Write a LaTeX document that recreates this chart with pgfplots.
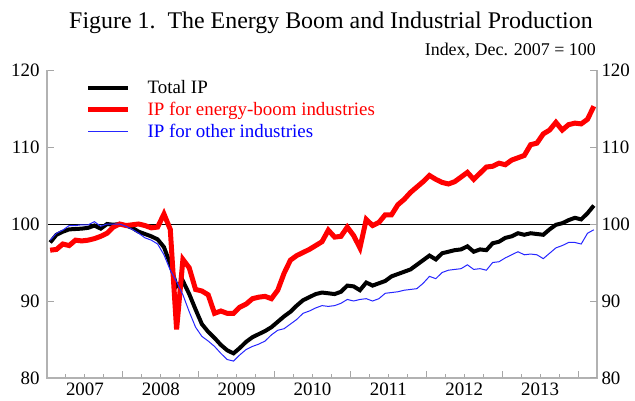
\documentclass[border=0pt]{standalone}
\usepackage{fontspec}
\setmainfont{Liberation Serif}
\usepackage{pgfplots}
\usepackage{pgfplotstable}
\pgfplotsset{compat=1.18}

% months from Jan 2007 (=0); index Dec 2007 = 100
\pgfplotstableread{
m total energy other
0 97.6 96.6 97.9
1 98.6 96.7 98.8
2 99.0 97.4 99.2
3 99.3 97.2 99.8
4 99.35 97.9 99.8
5 99.4 97.8 99.9
6 99.5 97.9 99.9
7 99.8 98.1 100.3
8 99.4 98.4 99.7
9 100.0 98.8 100.0
10 99.9 99.6 100.0
11 100.0 100.0 100.0
12 99.8 99.8 99.7
13 99.5 99.9 99.3
14 99.0 100.0 98.8
15 98.7 99.8 98.2
16 98.4 99.5 97.9
17 98.0 99.6 97.4
18 97.0 101.3 96.0
19 94.8 99.3 94.0
20 91.9 86.3 92.5
21 92.6 95.4 90.8
22 90.9 94.3 88.6
23 88.9 91.5 86.6
24 87.0 91.3 85.4
25 86.0 90.8 84.8
26 85.2 88.4 84.1
27 84.3 88.7 83.2
28 83.6 88.4 82.4
29 83.2 88.4 82.2
30 83.9 89.2 83.0
31 84.7 89.6 83.7
32 85.3 90.3 84.1
33 85.7 90.5 84.4
34 86.1 90.6 84.8
35 86.6 90.3 85.6
36 87.3 91.4 86.2
37 88.0 93.6 86.4
38 88.6 95.3 87.0
39 89.4 95.9 87.6
40 90.1 96.3 88.4
41 90.5 96.7 88.7
42 90.9 97.2 89.1
43 91.1 97.7 89.4
44 91.0 99.2 89.3
45 90.9 98.3 89.4
46 91.2 98.4 89.7
47 92.0 99.6 90.2
48 91.9 98.5 90.0
49 91.4 96.9 90.2
50 92.4 100.6 90.3
51 92.0 99.8 90.0
52 92.3 100.2 90.3
53 92.6 101.2 91.0
54 93.2 101.2 91.1
55 93.5 102.5 91.2
56 93.8 103.2 91.4
57 94.1 104.1 91.5
58 94.7 104.8 91.6
59 95.3 105.5 92.3
60 95.9 106.3 93.2
61 95.4 105.8 92.9
62 96.2 105.4 93.7
63 96.4 105.2 94.0
64 96.6 105.5 94.1
65 96.7 106.1 94.2
66 97.1 106.7 94.7
67 96.4 105.8 94.1
68 96.7 106.6 94.2
69 96.6 107.4 94.0
70 97.5 107.5 95.0
71 97.7 107.9 95.1
72 98.2 107.7 95.6
73 98.4 108.3 96.0
74 98.8 108.6 96.4
75 98.6 108.9 96.0
76 98.8 110.3 96.1
77 98.7 110.5 96.0
78 98.6 111.7 95.5
79 99.3 112.2 96.2
80 99.9 113.2 96.9
81 100.1 112.2 97.2
82 100.5 112.9 97.6
83 100.8 113.1 97.6
84 100.6 113.0 97.4
85 101.4 113.6 98.8
86 102.4 115.3 99.25
}\ipdata

\begin{document}
\begin{tikzpicture}
\useasboundingbox (0,0) rectangle (635bp,401bp);
\node[anchor=base, font=\fontsize{24}{26}\selectfont] at (331bp,372bp)
  {Figure 1.\ \ The Energy Boom and Industrial Production};
\node[anchor=base east, font=\fontsize{18}{20}\selectfont, inner sep=0pt] at (596bp,345bp)
  {Index, Dec. 2007 = 100};

\begin{axis}[
  at={(47bp,23bp)}, anchor=south west,
  scale only axis, width=550bp, height=308bp,
  xmin=-0.5, xmax=86.5, ymin=80, ymax=120,
  clip=false,
  axis line style={draw=none},
  tick align=inside, xtick pos=bottom, ytick pos=left,
  major tick length=7bp, minor tick length=4bp,
  tick style={gray!70, line width=1bp},
  xtick={11.5,23.5,...,83.5}, xticklabels={},
  minor xtick={2.5,5.5,...,86.5},
  extra x ticks={5.5,17.5,...,77.5},
  extra x tick labels={2007,2008,2009,2010,2011,2012,2013},
  extra x tick style={major tick length=0pt},
  ytick={80,90,...,120},
  /pgf/number format/assume math mode=true,
  ticklabel style={font=\fontsize{19}{20}\selectfont},
  yticklabel style={xshift=-4bp},
  xticklabel style={yshift=-1bp},
  legend style={draw=none, fill=none, at={(0.068,0.976)}, anchor=north west,
    font=\fontsize{19}{20}\selectfont, row sep=3bp, inner sep=1bp},
  legend cell align=left,
  legend image code/.code={\draw[#1] (0bp,0bp) -- (40bp,0bp); \path (55bp,0bp);},
]
\addplot[black, line width=0.9bp, forget plot] coordinates {(-0.5,100) (86.5,100)};
\addplot[black, line width=4bp] table[x=m, y=total] {\ipdata};
\addlegendentry{\textcolor{black}{Total IP}}
\addplot[red, line width=5bp] table[x=m, y=energy] {\ipdata};
\addlegendentry{\textcolor{red}{IP for energy-boom industries}}
\addplot[blue!85, line width=1bp] table[x=m, y=other] {\ipdata};
\addlegendentry{\textcolor{blue}{IP for other industries}}
\draw[gray!60, line width=1.3bp] (rel axis cs:0,1) -- (rel axis cs:0,0)
  -- (rel axis cs:1,0) -- (rel axis cs:1,1);
\end{axis}

\begin{axis}[
  at={(47bp,23bp)}, anchor=south west,
  scale only axis, width=550bp, height=308bp,
  xmin=-0.5, xmax=86.5, ymin=80, ymax=120,
  hide x axis, axis line style={draw=none},
  tick align=inside, ytick pos=right, yticklabel pos=right,
  major tick length=7bp,
  tick style={gray!70, line width=1bp},
  ytick={80,90,...,120},
  /pgf/number format/assume math mode=true,
  yticklabel style={font=\fontsize{19}{20}\selectfont, xshift=1bp},
]
\addplot[draw=none] coordinates {(0,100)};
\end{axis}
\end{tikzpicture}
\end{document}
